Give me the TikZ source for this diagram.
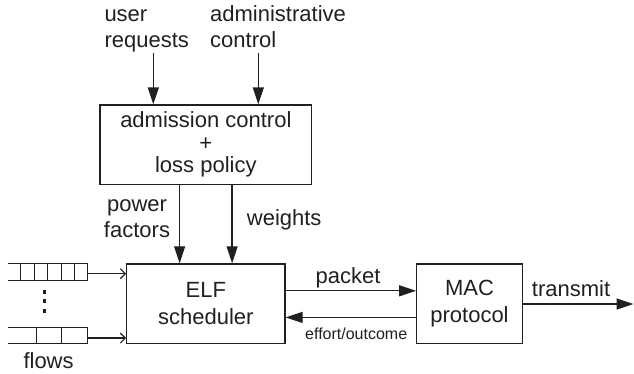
\documentclass[tikz,border=0pt]{standalone}
\usepackage{fontspec}
\setmainfont{Liberation Sans}
\usetikzlibrary{arrows.meta}
\definecolor{ink}{HTML}{231F20}
\tikzset{
  every node/.style={text=ink},
  blk/.style={draw=ink, line width=1.3pt, inner sep=0pt, align=center},
  lbl/.style={inner sep=0pt, font=\fontsize{22}{26.7}\selectfont},
  fa/.style={draw=ink, line width=1.3pt, -{Triangle[length=17pt,width=11pt]}},
  oa/.style={draw=ink, line width=1.1pt, -{Straight Barb[length=5pt,width=10pt]}},
  qline/.style={draw=ink, line width=1pt}
}
\begin{document}
\begin{tikzpicture}[x=1pt,y=-1pt]
\useasboundingbox (0,0) rectangle (634,373);
% boxes
\node[blk, minimum width=211.7pt, minimum height=79.3pt, font=\fontsize{22}{22.5}\selectfont] (adm) at (205.85,144.65) {admission control\\+\\loss policy};
\node[blk, minimum width=158.3pt, minimum height=79.6pt, font=\fontsize{22}{26.7}\selectfont] (elf) at (205.85,303.7) {ELF\\scheduler};
\node[blk, minimum width=105.6pt, minimum height=79.6pt, font=\fontsize{22}{26.7}\selectfont] (mac) at (469.5,303.7) {MAC\\protocol};
% labels
\node[lbl, anchor=base west, align=left] (ur) at (104.3,47.7) {user\\requests};
\node[lbl, anchor=base west, align=left] (ac) at (210,47.7) {administrative\\control};
\node[lbl, anchor=base, align=center] (pf) at (137,237.7) {power\\factors};
\node[lbl, anchor=base west] (wt) at (246.7,225) {weights};
\node[lbl, anchor=base] (pk) at (348,283.3) {packet};
\node[lbl, anchor=base west] (tr) at (531.7,296.7) {transmit};
\node[inner sep=0pt, anchor=base west, font=\fontsize{16}{19}\selectfont] (eo) at (305,339.3) {effort/outcome};
\node[lbl, anchor=base west] (fl) at (23.3,368.3) {flows};
% input arrows
\coordinate (u0) at (153.3,53);
\coordinate (a0) at (258.3,53);
\draw[fa] (u0) -- (u0 |- adm.north);
\draw[fa] (a0) -- (a0 |- adm.north);
\coordinate (p0) at (179.6,184.3);
\coordinate (w0) at (232.1,184.3);
\draw[fa] (p0 |- adm.south) -- (p0 |- elf.north);
\draw[fa] (w0 |- adm.south) -- (w0 |- elf.north);
% packet / effort
\coordinate (pkY) at (0,290.8);
\coordinate (eoY) at (0,317.4);
\draw[fa] (elf.east |- pkY) -- (mac.west |- pkY);
\draw[fa] (mac.west |- eoY) -- (elf.east |- eoY);
\coordinate (tx) at (633.5,304);
\draw[fa] (mac.east |- tx) -- (tx);
% queues
\draw[qline] (8,263.7) -- (87.3,263.7) -- (87.3,280.3) -- (8,280.3);
\foreach \x in {20.7,34.7,47.7,61,74}
  \draw[qline] (\x,263.7) -- (\x,280.3);
\draw[qline] (8,327) -- (87.3,327) -- (87.3,343.7) -- (8,343.7);
\foreach \x in {36,61}
  \draw[qline] (\x,327) -- (\x,343.7);
\coordinate (q1) at (87.3,273.7);
\coordinate (q2) at (87.3,338);
\draw[oa] (q1) -- (q1 -| elf.west);
\draw[oa] (q2) -- (q2 -| elf.west);
% dots
\foreach \y in {291.7,301,310.7}
  \fill[ink] (44.3,\y) +(-1.8,-1.8) rectangle +(1.8,1.8);
\end{tikzpicture}
\end{document}
